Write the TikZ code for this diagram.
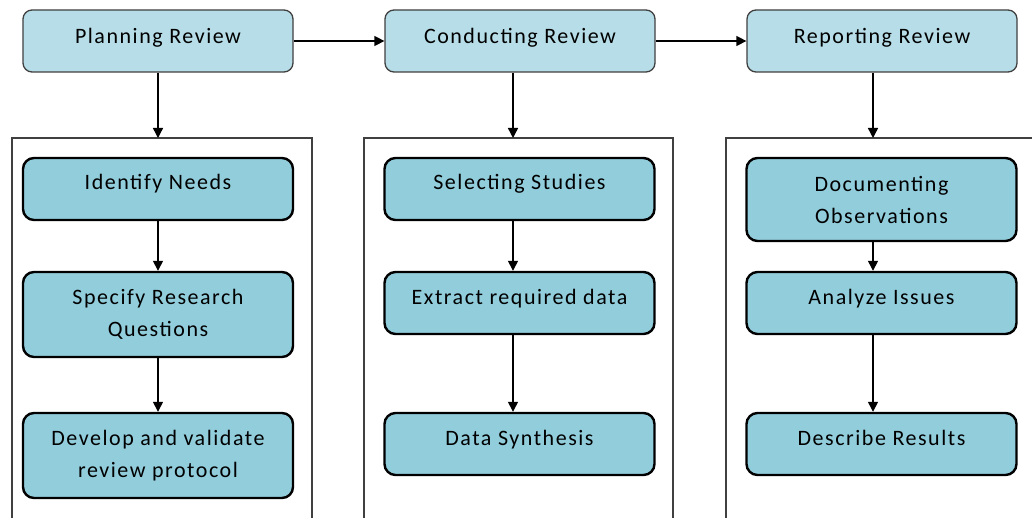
\documentclass[tikz,border=0pt]{standalone}
\usepackage{fontspec}
\setmainfont{Carlito}
\usetikzlibrary{arrows.meta}
\definecolor{topfill}{HTML}{B7DEE8}
\definecolor{stepfill}{HTML}{92CDDC}
\definecolor{edgegray}{HTML}{404040}
\tikzset{
  base/.style={font=\fontsize{22}{32}\selectfont\addfontfeatures{LetterSpace=7},
    align=center, inner sep=0pt, minimum width=270pt},
  phase/.style={base, draw=edgegray, line width=1.3pt, fill=topfill,
    rounded corners=9pt, minimum height=62pt, text height=11pt, text depth=5pt},
  stepbox/.style={base, draw=black, line width=2.4pt, fill=stepfill,
    rounded corners=11pt},
  single/.style={minimum height=62pt, text height=9pt, text depth=7pt},
  frame/.style={draw=edgegray, line width=1.1pt},
  flow/.style={draw=black, line width=1.4pt, -{Triangle[length=10pt,width=10pt]}}
}
\begin{document}
\begin{tikzpicture}[x=1pt,y=-1pt]
\useasboundingbox (0,0) rectangle (1032,518);
\fill[white] (0,0) rectangle (1032,518);

% phase containers, open at the bottom
\draw[frame] (12,518) -- (12,138) -- (312,138) -- (312,518);
\draw[frame] (364,518) -- (364,138) -- (673,138) -- (673,518);
\draw[frame] (726,518) -- (726,138) -- (1032,138);
\coordinate (cplan) at (158,138);
\coordinate (ccond) at (513,138);
\coordinate (crep) at (873,138);

% phases
\node[phase] (plan) at (158,41) {Planning Review};
\node[phase] (cond) at (520,41) {Conducting Review};
\node[phase] (rep) at (882,41) {Reporting Review};

% planning steps
\node[stepbox, single] (s1) at (158,189) {Identify Needs};
\node[stepbox, minimum height=85pt] (s2) at (158,314.5) {Specify Research\\Questions};
\node[stepbox, minimum height=85pt] (s3) at (158,455.5) {Develop and validate\\review protocol};

% conducting steps
\node[stepbox, single] (c1) at (519.5,189) {Selecting Studies};
\node[stepbox, single] (c2) at (519.5,303) {Extract required data};
\node[stepbox, single] (c3) at (519.5,444) {Data Synthesis};

% reporting steps
\node[stepbox, minimum height=83pt] (r1) at (881.5,199.5) {Documenting\\Observations};
\node[stepbox, single] (r2) at (881.5,303) {Analyze Issues};
\node[stepbox, single] (r3) at (881.5,444) {Describe Results};

% connectors
\draw[flow] (plan.east) -- (cond.west);
\draw[flow] (cond.east) -- (rep.west);
\draw[flow] (plan.south -| cplan) -- (cplan);
\draw[flow] (cond.south -| ccond) -- (ccond);
\draw[flow] (rep.south -| crep) -- (crep);
\draw[flow] (s1) -- (s2);
\draw[flow] (s2) -- (s3);
\draw[flow] (c1.south -| ccond) -- (c2.north -| ccond);
\draw[flow] (c2.south -| ccond) -- (c3.north -| ccond);
\draw[flow] (r1.south -| crep) -- (r2.north -| crep);
\draw[flow] (r2.south -| crep) -- (r3.north -| crep);
\end{tikzpicture}
\end{document}
